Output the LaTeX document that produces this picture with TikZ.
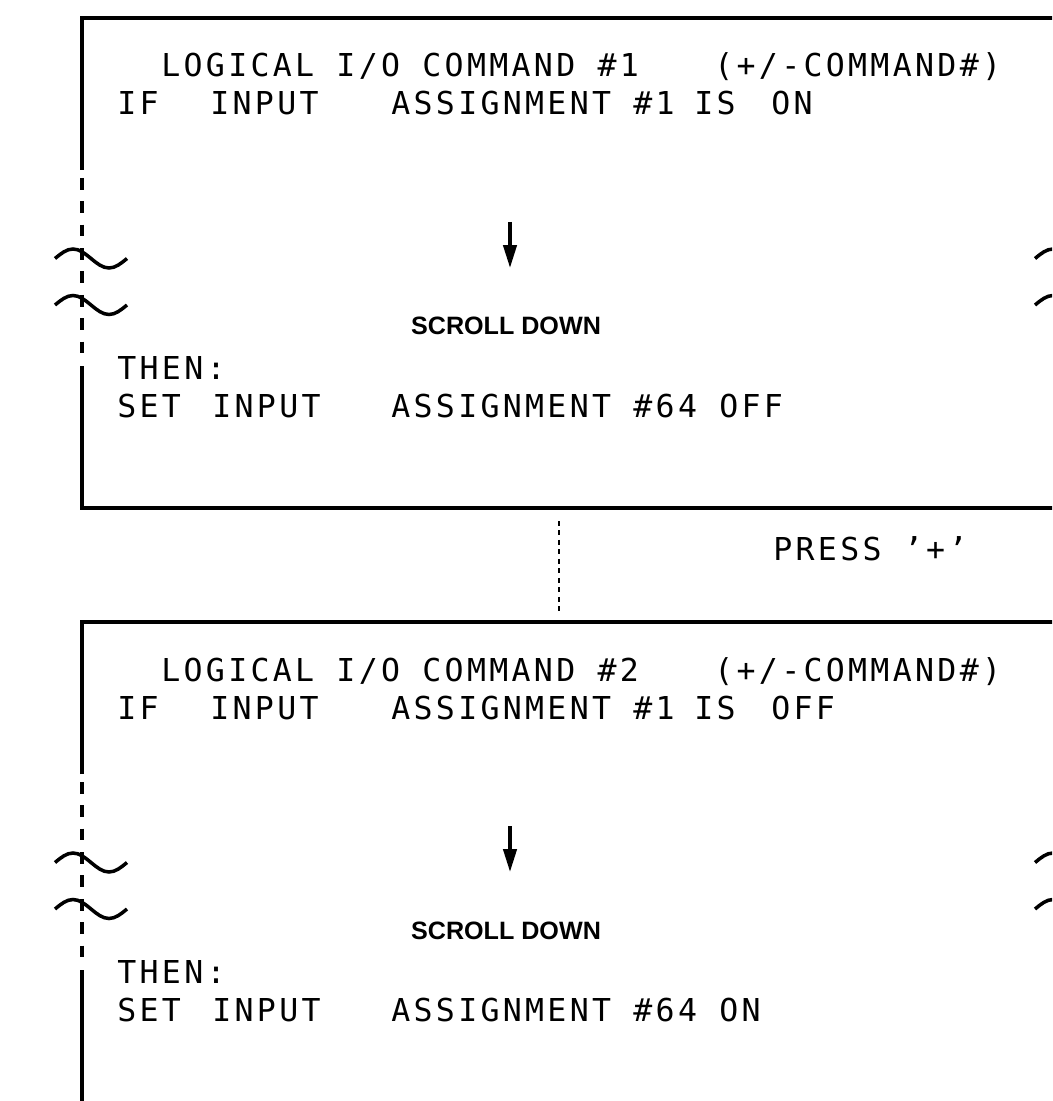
\documentclass[tikz,border=0pt]{standalone}
\usepackage{fontspec}
\newfontfamily\iofont[LetterSpace=10.5]{DejaVu Sans Mono}
\newfontfamily\keyfont{Liberation Sans}
\newcommand\iolook{\iofont\fontsize{17.96}{20}\selectfont\spaceskip=12.69pt\relax}
\usetikzlibrary{arrows.meta}
\tikzset{%
  screen/.style = {line width=2pt},%
  brk/.style    = {screen, dash pattern=on 6.65pt off 6.65pt},%
  jump/.style   = {line width=1.5pt, dash pattern=on 2.8pt off 2.6pt},%
  iotext/.style = {anchor=base west, inner sep=0pt, font=\iolook},%
  hint/.style   = {anchor=base, inner sep=0pt,%
                   font=\keyfont\bfseries\fontsize{14.3}{16}\selectfont}%
}

\begin{document}
\begin{tikzpicture}
[x=0.02cm,y=-0.02cm,down/.style={screen,-{Triangle[length=13pt,width=7.5pt]}}]
	\useasboundingbox (0,0) rectangle (1052,1101);
	\clip (0,0) rectangle (1052,1101);
	% first screen
	\draw [screen] (82,170) -- (82,18) -- (1060,18);
	\draw [brk] (82,178) -- (82,356);
	\draw [screen] (82,366) -- (82,508) -- (1060,508);
	\draw [screen] (55,258.5) sin (73,249) cos (91,258.5) sin (109,268) cos (127,258.5);
	\draw [screen] (55,305) sin (73,295.5) cos (91,305) sin (109,314.5) cos (127,305);
	\draw [screen] (1035,258.5) sin (1053,249) cos (1071,258.5) sin (1089,268) cos (1107,258.5);
	\draw [screen] (1035,305) sin (1053,295.5) cos (1071,305) sin (1089,314.5) cos (1107,305);
	\node [iotext] (cmdA) at (161,77) {LOGICAL I/O COMMAND \#1};
	\node [iotext] (pmA) at (714,77) {(+/-COMMAND\#)};
	\node [iotext] (ifA) at (117,115) {IF};
	\node [iotext] (inA) at (210,115) {INPUT};
	\node [iotext] (asgA) at (391,115) {ASSIGNMENT \#1};
	\node [iotext] (isA) at (694,115) {IS};
	\node [iotext] (stA) at (771,115) {ON};
	\coordinate (topA) at (510,222);
	\coordinate (tipA) at (510,268);
	\draw [down] (topA) -- (tipA);
	\node [hint] (scrollA) at (506,335) {SCROLL DOWN};
	\node [iotext] (thenA) at (117,379) {THEN:};
	\node [iotext] (setA) at (117,417) {SET};
	\node [iotext] (setinA) at (212,417) {INPUT};
	\node [iotext] (setasgA) at (391,417) {ASSIGNMENT \#64 OFF};
	% page change
	\coordinate (outA) at (559,521);
	\coordinate (inB) at (559,614);
	\draw [jump] (outA) -- (inB);
	\node [iotext] (press) at (773,560) {PRESS ’+’};
	% second screen
	\draw [screen] (82,774) -- (82,622) -- (1060,622);
	\draw [brk] (82,782) -- (82,960);
	\draw [screen] (82,970) -- (82,1110);
	\draw [screen] (55,862.5) sin (73,853) cos (91,862.5) sin (109,872) cos (127,862.5);
	\draw [screen] (55,909) sin (73,899.5) cos (91,909) sin (109,918.5) cos (127,909);
	\draw [screen] (1035,862.5) sin (1053,853) cos (1071,862.5) sin (1089,872) cos (1107,862.5);
	\draw [screen] (1035,909) sin (1053,899.5) cos (1071,909) sin (1089,918.5) cos (1107,909);
	\node [iotext] (cmdB) at (161,681) {LOGICAL I/O COMMAND \#2};
	\node [iotext] (pmB) at (714,681) {(+/-COMMAND\#)};
	\node [iotext] (ifB) at (117,719) {IF};
	\node [iotext] (inB) at (210,719) {INPUT};
	\node [iotext] (asgB) at (391,719) {ASSIGNMENT \#1};
	\node [iotext] (isB) at (694,719) {IS};
	\node [iotext] (stB) at (771,719) {OFF};
	\coordinate (topB) at (510,826);
	\coordinate (tipB) at (510,872);
	\draw [down] (topB) -- (tipB);
	\node [hint] (scrollB) at (506,939) {SCROLL DOWN};
	\node [iotext] (thenB) at (117,983) {THEN:};
	\node [iotext] (setB) at (117,1021) {SET};
	\node [iotext] (setinB) at (212,1021) {INPUT};
	\node [iotext] (setasgB) at (391,1021) {ASSIGNMENT \#64 ON};
\end{tikzpicture}
\end{document}
